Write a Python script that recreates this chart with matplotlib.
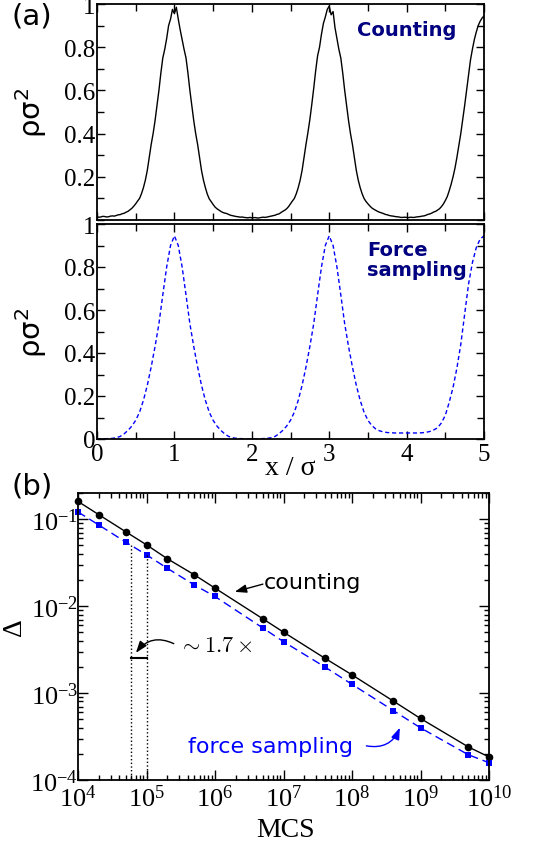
import numpy as np
import matplotlib
matplotlib.use("Agg")
import matplotlib.pyplot as plt
from matplotlib.ticker import FixedLocator, MultipleLocator, LogLocator, NullFormatter

plt.rcParams['font.family'] = ['Liberation Serif', 'DejaVu Sans']
plt.rcParams['mathtext.fontset'] = 'custom'
plt.rcParams['mathtext.rm'] = 'Liberation Serif'
plt.rcParams['mathtext.it'] = 'Liberation Serif:italic'
plt.rcParams['axes.unicode_minus'] = False

# ---- panel (a): density profiles ----
# counting histogram, read every 0.025 sigma
x_counting = np.round(np.arange(0, 201) * 0.025, 3)
rho_counting = [
    0.015, 0.013, 0.014, 0.017, 0.016, 0.014, 0.015, 0.018, 0.019, 0.018,
    0.021, 0.024, 0.025, 0.029, 0.031, 0.036, 0.040, 0.047, 0.054, 0.064,
    0.075, 0.088, 0.100, 0.122, 0.150, 0.185, 0.230, 0.290, 0.350, 0.400,
    0.460, 0.530, 0.600, 0.680, 0.750, 0.790, 0.840, 0.900, 0.930, 0.975,
    0.955, 0.985, 0.930, 0.880, 0.835, 0.790, 0.750, 0.680, 0.600, 0.530,
    0.460, 0.400, 0.350, 0.290, 0.230, 0.185, 0.150, 0.120, 0.098, 0.085,
    0.072, 0.060, 0.052, 0.046, 0.040, 0.035, 0.032, 0.030, 0.026, 0.022,
    0.020, 0.018, 0.016, 0.015, 0.013, 0.014, 0.012, 0.011, 0.010, 0.012,
    0.010, 0.011, 0.011, 0.009, 0.010, 0.012, 0.013, 0.012, 0.014, 0.016,
    0.018, 0.020, 0.022, 0.026, 0.028, 0.034, 0.040, 0.045, 0.052, 0.062,
    0.075, 0.088, 0.100, 0.122, 0.150, 0.185, 0.230, 0.290, 0.350, 0.405,
    0.465, 0.535, 0.610, 0.690, 0.760, 0.800, 0.860, 0.910, 0.940, 0.975,
    0.990, 0.950, 0.965, 0.890, 0.840, 0.790, 0.750, 0.680, 0.600, 0.530,
    0.460, 0.400, 0.350, 0.290, 0.230, 0.185, 0.150, 0.122, 0.100, 0.086,
    0.075, 0.065, 0.056, 0.050, 0.045, 0.040, 0.036, 0.033, 0.030, 0.026,
    0.024, 0.021, 0.019, 0.018, 0.016, 0.015, 0.014, 0.012, 0.012, 0.013,
    0.012, 0.011, 0.013, 0.012, 0.012, 0.014, 0.015, 0.016, 0.018, 0.019,
    0.022, 0.026, 0.028, 0.032, 0.037, 0.040, 0.046, 0.052, 0.062, 0.074,
    0.090, 0.108, 0.135, 0.165, 0.200, 0.240, 0.290, 0.345, 0.400, 0.465,
    0.530, 0.600, 0.670, 0.740, 0.790, 0.835, 0.870, 0.900, 0.920, 0.935,
    0.945,
]

# force sampling profile, read every 0.05 sigma
x_force = np.round(np.arange(0, 101) * 0.05, 2)
rho_force = [
    0.000, 0.000, 0.001, 0.002, 0.003, 0.006, 0.012, 0.024, 0.040, 0.060,
    0.087, 0.125, 0.180, 0.250, 0.335, 0.430, 0.536, 0.670, 0.800, 0.900,
    0.945, 0.900, 0.800, 0.670, 0.536, 0.430, 0.335, 0.250, 0.180, 0.125,
    0.087, 0.060, 0.040, 0.024, 0.012, 0.006, 0.003, 0.002, 0.001, 0.000,
    0.000, 0.000, 0.001, 0.002, 0.003, 0.006, 0.012, 0.024, 0.040, 0.060,
    0.087, 0.125, 0.180, 0.250, 0.335, 0.430, 0.536, 0.670, 0.800, 0.900,
    0.945, 0.900, 0.800, 0.670, 0.536, 0.430, 0.335, 0.250, 0.180, 0.125,
    0.087, 0.063, 0.047, 0.038, 0.033, 0.030, 0.029, 0.028, 0.028, 0.028,
    0.028, 0.028, 0.028, 0.028, 0.029, 0.031, 0.035, 0.042, 0.052, 0.075,
    0.110, 0.170, 0.240, 0.330, 0.440, 0.580, 0.720, 0.820, 0.890, 0.930,
    0.945,
]

# ---- panel (b): error vs Monte Carlo steps ----
mcs = [1e4, 2e4, 5e4, 1e5, 2e5, 5e5, 1e6, 5e6, 1e7, 4e7, 1e8, 4e8, 1e9, 5e9, 1e10]
delta_counting = [0.160, 0.113, 0.0715, 0.0507, 0.0352, 0.0229, 0.0161, 0.00714,
                  0.00502, 0.00252, 0.00162, 0.00081, 0.00051, 0.00024, 0.000184]
delta_force = [0.121, 0.086, 0.0543, 0.0389, 0.0273, 0.0175, 0.0129, 0.0056,
               0.0039, 0.0020, 0.00126, 0.00063, 0.000398, 0.000195, 0.000158]

speedup = 1.7
mcs_ref = 1e5
delta_ref = 0.0505
delta_bar = 0.0025

W, H = 549, 845


def box(left, top, right, bottom):
    return [left / W, 1 - bottom / H, (right - left) / W, (bottom - top) / H]


def style_profile_axis(ax, show_xlabels, ylabels):
    ax.set_xlim(0, 5)
    ax.set_ylim(0, 1)
    ax.xaxis.set_major_locator(MultipleLocator(1))
    ax.xaxis.set_minor_locator(MultipleLocator(0.5))
    ax.yaxis.set_major_locator(FixedLocator([v for v, _ in ylabels]))
    ax.set_yticklabels([s for _, s in ylabels])
    ax.yaxis.set_minor_locator(MultipleLocator(0.1))
    ax.tick_params(which='both', direction='in', top=True, right=True, width=1)
    ax.tick_params(which='major', length=6)
    ax.tick_params(which='minor', length=5)
    ax.tick_params(axis='y', labelsize=18, pad=1)
    ax.tick_params(axis='x', labelsize=18, pad=3)
    if not show_xlabels:
        ax.tick_params(axis='x', labelbottom=False)
    for sp in ax.spines.values():
        sp.set_linewidth(1.3)
    ax.set_ylabel('ρσ$^2$', family='DejaVu Sans', fontsize=21, math_fontfamily='dejavusans')
    ax.yaxis.set_label_coords(-0.125, 0.5)


fig = plt.figure(figsize=(W / 100, H / 100), dpi=100)

ax1 = fig.add_axes(box(97, 5, 484, 221))
ax1.plot(x_counting, rho_counting, color='k', lw=1.0)
style_profile_axis(ax1, False, [(0.2, '0.2'), (0.4, '0.4'), (0.6, '0.6'), (0.8, '0.8'), (1.0, '1')])
ax1.text(0.672, 0.88, 'Counting', transform=ax1.transAxes, family='DejaVu Sans',
         fontweight='bold', fontsize=14, color='#000080', va='center', ha='left')

ax2 = fig.add_axes(box(97, 225, 484, 440))
ax2.plot(x_force, rho_force, color='#0000ff', lw=1, ls=(0, (3, 2)))
style_profile_axis(ax2, True, [(0, '0'), (0.2, '0.2'), (0.4, '0.4'), (0.6, '0.6'), (0.8, '0.8'), (1.0, '1')])
ax2.text(0.698, 0.835, 'Force\nsampling', transform=ax2.transAxes, family='DejaVu Sans',
         fontweight='bold', fontsize=14, color='#000080', va='center', ha='left', linespacing=1.05)
ax2.set_xlabel('x / σ', fontsize=20)
ax2.xaxis.set_label_coords(0.499, -0.075)

ax3 = fig.add_axes(box(78, 494, 489, 781))
ax3.set_xscale('log')
ax3.set_yscale('log')
ax3.plot(mcs, delta_counting, color='k', lw=1, marker='o', ms=5.5, mew=0, clip_on=False)
ax3.plot(mcs, delta_force, color='#0000ff', lw=1, ls=(0, (6, 3.5)), marker='s', ms=4.5, mew=0,
         clip_on=False)
ax3.set_xlim(1e4, 1e10)
ax3.set_ylim(1e-4, 0.2)

xdec = [4, 5, 6, 7, 8, 9, 10]
ax3.xaxis.set_major_locator(FixedLocator([10.0 ** d for d in xdec]))
ax3.set_xticklabels([r'$\mathregular{10^{%d}}$' % d for d in xdec])
ydec = [-4, -3, -2, -1]
ax3.yaxis.set_major_locator(FixedLocator([10.0 ** d for d in ydec]))
ax3.set_yticklabels([r'$\mathregular{10^{%d}}$' % d for d in ydec])
for axis in (ax3.xaxis, ax3.yaxis):
    axis.set_minor_locator(LogLocator(base=10, subs=np.arange(2, 10), numticks=20))
    axis.set_minor_formatter(NullFormatter())
ax3.tick_params(which='both', direction='in', top=True, right=True, width=1)
ax3.tick_params(which='major', length=7)
ax3.tick_params(which='minor', length=3.5)
ax3.tick_params(axis='x', labelsize=19, pad=3)
ax3.tick_params(axis='y', labelsize=19, pad=0)
for sp in ax3.spines.values():
    sp.set_linewidth(1.3)
ax3.set_xlabel('MCS', fontsize=20)
ax3.xaxis.set_label_coords(0.504, -0.13)
ax3.set_ylabel('Δ', fontsize=20)
ax3.yaxis.set_label_coords(-0.125, 0.537)

# speed-up marker
mcs_fast = mcs_ref / speedup
ax3.plot([mcs_fast, mcs_fast], [delta_ref, 1e-4], color='k', lw=1, ls=':')
ax3.plot([mcs_ref, mcs_ref], [delta_force[mcs.index(mcs_ref)], 1e-4], color='k', lw=1, ls=':')
ax3.plot([mcs_fast, mcs_ref], [delta_bar, delta_bar], color='k', lw=1.5)
ax3.annotate('', xy=(7e4, 0.0029), xytext=(2.5e5, 0.0037),
             arrowprops=dict(arrowstyle='-|>,head_length=0.7,head_width=0.25', color='k', lw=1,
                             connectionstyle='arc3,rad=0.4', shrinkA=0, shrinkB=0))
ax3.text(2.98e5, 0.00345, r'$\sim 1.7\times$', fontsize=16, math_fontfamily='cm',
         va='center', ha='left')

ax3.text(5.1e6, 0.0189, 'counting', family='DejaVu Sans', fontsize=16, va='center', ha='left')
ax3.annotate('', xy=(1.94e6, 0.0146), xytext=(5e6, 0.0179),
             arrowprops=dict(arrowstyle='-|>,head_length=0.7,head_width=0.25', color='k', lw=1,
                             shrinkA=0, shrinkB=0))
ax3.text(4.0e5, 2.47e-4, 'force sampling', family='DejaVu Sans', fontsize=16,
         color='#0000ff', va='center', ha='left')
ax3.annotate('', xy=(5e8, 4.0e-4), xytext=(1.62e8, 2.47e-4),
             arrowprops=dict(arrowstyle='-|>,head_length=0.7,head_width=0.25', color='#0000ff', lw=1,
                             connectionstyle='arc3,rad=0.4', shrinkA=0, shrinkB=0))

fig.text(12 / W, 1 - 3 / H, '(a)', family='DejaVu Sans', fontsize=21, va='top', ha='left')
fig.text(12 / W, 1 - 473 / H, '(b)', family='DejaVu Sans', fontsize=21, va='top', ha='left')

fig.savefig('out.png', dpi=100)
